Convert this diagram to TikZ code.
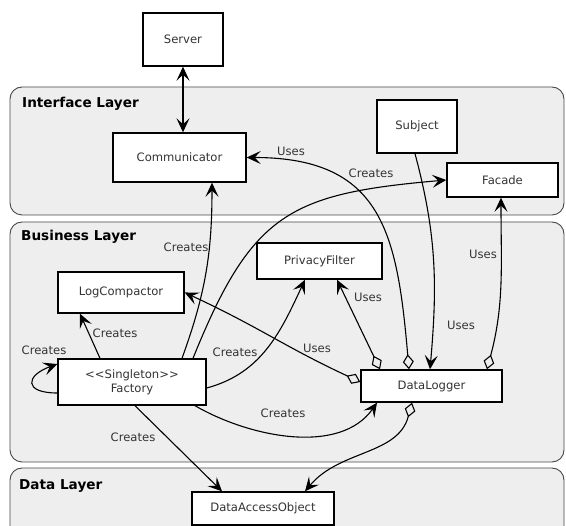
\documentclass[tikz,border=0pt]{standalone}
\usepackage{fontspec}
\setmainfont{DejaVu Sans}
\usetikzlibrary{arrows.meta,calc}
\definecolor{layerfill}{HTML}{EEEEEE}
\definecolor{layerline}{HTML}{484848}
\definecolor{txt}{HTML}{333333}
\newcommand{\guil}[1]{<\kern0pt<#1>\kern0pt>}

\begin{document}
\begin{tikzpicture}[x=1pt,y=1pt,
  cls/.style={draw,rectangle,fill=white,line width=1.4pt,inner sep=0pt,
    text=txt,font=\fontsize{11.6}{14}\selectfont,align=center},
  layer/.style={draw=layerline,fill=layerfill,rounded corners=12pt,line width=0.9pt},
  layername/.style={anchor=west,inner sep=0pt,font=\fontsize{13.6}{16}\selectfont\bfseries},
  lbl/.style={inner sep=0pt,text=txt,font=\fontsize{11.6}{14}\selectfont},
  conn/.style={line width=1.1pt,-{Stealth[length=14pt,width=13pt,inset=6pt]}},
  biconn/.style={line width=1.1pt,{Stealth[length=14pt,width=13pt,inset=6pt]}-{Stealth[length=14pt,width=13pt,inset=6pt]}},
  agg/.style={line width=1.1pt,{Diamond[open,length=15pt,width=11pt]}-{Stealth[length=14pt,width=13pt,inset=6pt]}}]
  \useasboundingbox (0,0) rectangle (566,-526);
  \clip (0,0) rectangle (566,-526);
  % layers
  \draw[layer] (10,-87) rectangle (564,-215);
  \draw[layer] (10,-222) rectangle (564,-462);
  \draw[layer] (10,-468) rectangle (564,-560);
  \node[layername] (ifname) at (22,-104) {Interface Layer};
  \node[layername] (bizname) at (21,-237) {Business Layer};
  \node[layername] (dataname) at (19,-486) {Data Layer};
  % classes
  \node[cls,minimum width=80pt,minimum height=53pt] (Server) at (183,-39.5) {Server};
  \node[cls,minimum width=133pt,minimum height=49pt] (Communicator) at (179.5,-157.5) {Communicator};
  \node[cls,minimum width=80pt,minimum height=53pt] (Subject) at (417,-126.5) {Subject};
  \node[cls,minimum width=111pt,minimum height=34pt] (Facade) at (502.5,-180) {Facade};
  \node[cls,minimum width=125pt,minimum height=36pt] (PrivacyFilter) at (319.5,-261) {PrivacyFilter};
  \node[cls,minimum width=126pt,minimum height=41pt] (LogCompactor) at (121,-292.5) {LogCompactor};
  \node[cls,minimum width=148pt,minimum height=46pt] (Factory) at (132,-382) {\guil{Singleton}\\Factory};
  \node[cls,minimum width=141pt,minimum height=32pt] (DataLogger) at (431.5,-386) {DataLogger};
  \node[cls,minimum width=142pt,minimum height=33pt] (DataAccessObject) at (263,-508.5) {DataAccessObject};
  % connectors
  \draw[biconn] (Server.south) -- (Server.south |- Communicator.north);
  \draw[agg] ([xshift=-22.5]DataLogger.north) to[out=95,in=0,looseness=1.3] (Communicator.east);
  \draw[conn] ([xshift=-2]Subject.south) to[out=-75,in=85] ([xshift=-1.5]DataLogger.north);
  \draw[agg] ([xshift=55.5]DataLogger.north) to[out=75,in=-90] ([xshift=-1.5]Facade.south);
  \draw[conn] ([xshift=50]Factory.north) to[out=70,in=-90] ([xshift=32.5]Communicator.south);
  \draw[conn] ([xshift=61]Factory.north) to[out=68,in=185,looseness=1.3] (Facade.west);
  \draw[conn] ([xshift=-32]Factory.north) -- ([xshift=-41]LogCompactor.south);
  \draw[conn] ([yshift=-11]Factory.west) to[out=180,in=200,looseness=3] ([yshift=18]Factory.west);
  \draw[conn] ([yshift=-6]Factory.east) to[out=15,in=245] ([xshift=-14.5]PrivacyFilter.south);
  \draw[conn] ([xshift=63]Factory.south) to[out=-30,in=235,looseness=0.9] ([xshift=-54.5]DataLogger.south);
  \draw[conn] ([xshift=3]Factory.south) -- ([xshift=-41]DataAccessObject.north);
  \draw[agg] ([yshift=4]DataLogger.west) to[out=155,in=-25,looseness=1.1] (LogCompactor.east);
  \draw[agg] ([xshift=-51.5]DataLogger.north) -- ([xshift=17.5]PrivacyFilter.south);
  \draw[agg] ([xshift=-19.5]DataLogger.south) to[out=-105,in=50] ([xshift=42]DataAccessObject.north);
  % labels
  \node[lbl] (usesComm) at (291,-151) {Uses};
  \node[lbl] (createsFacade) at (371,-173) {Creates};
  \node[lbl] (createsComm) at (186,-247) {Creates};
  \node[lbl] (createsLog) at (115,-333) {Creates};
  \node[lbl] (createsSelf) at (44,-350) {Creates};
  \node[lbl] (createsPriv) at (235,-352) {Creates};
  \node[lbl] (createsDL) at (283,-413) {Creates};
  \node[lbl] (createsDAO) at (133,-437) {Creates};
  \node[lbl] (usesLog) at (317,-348) {Uses};
  \node[lbl] (usesPriv) at (368,-297) {Uses};
  \node[lbl] (usesFacade) at (483,-254) {Uses};
  \node[lbl] (usesSubject) at (461,-325) {Uses};
\end{tikzpicture}
\end{document}
